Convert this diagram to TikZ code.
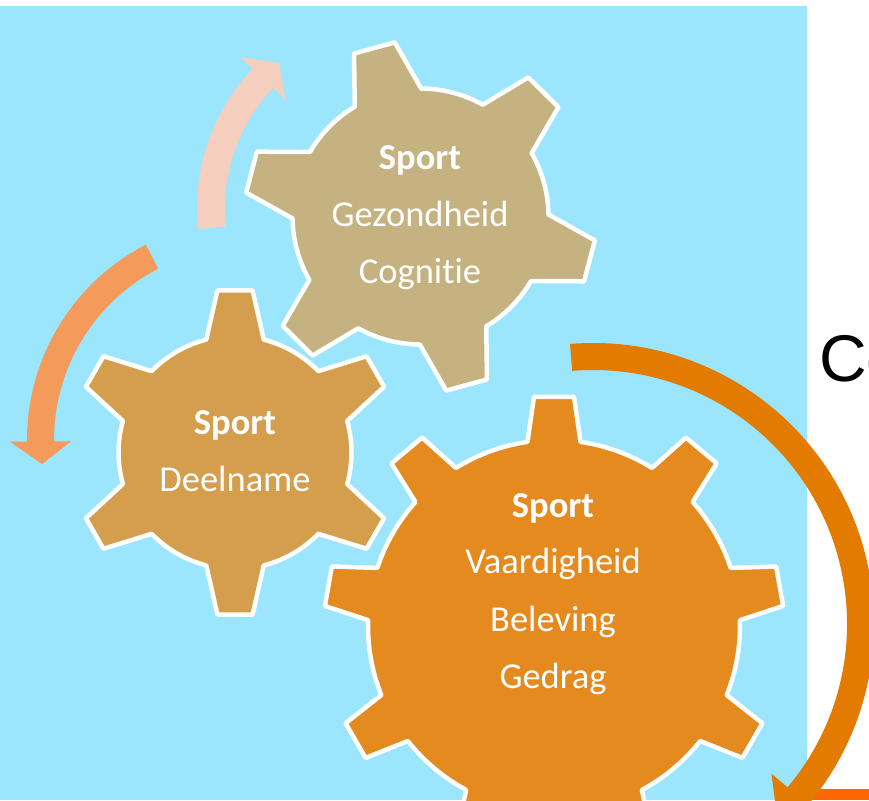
\documentclass[tikz,border=0pt]{standalone}
\usepackage{fontspec}
\setmainfont{Carlito}[Ligatures=NoCommon]
\newfontfamily\arialfont{Liberation Sans}
\definecolor{bgblue}{RGB}{155,229,253}
\definecolor{geartan}{RGB}{196,178,128}
\definecolor{gearmid}{RGB}{212,158,77}
\definecolor{gearbig}{RGB}{228,138,30}
\definecolor{arrpink}{RGB}{246,206,190}
\definecolor{arrorange}{RGB}{244,154,90}
\definecolor{arcorange}{RGB}{226,123,0}
\definecolor{barorange}{RGB}{255,102,0}
\tikzset{
  gearline/.style={draw=white,line width=4.5pt,line join=round},
  geartext/.style={text=white,font=\fontsize{36.5}{43}\selectfont,anchor=base,inner sep=0pt},
}
% #1 fill, #2 cx, #3 cy, #4 teeth, #5 first tooth angle, #6 root r, #7 tip r, #8 base half angle, #9 tip half angle
\newcommand\drawgear[9]{%
  \pgfmathsetmacro\gstp{360/#4}%
  \filldraw[gearline, fill=#1, shift={(#2,#3)}] ({#5-#8}:#6pt)
    \foreach \gk in {1,...,#4} {
      -- ({#5+(\gk-1)*\gstp-#9}:#7pt) -- ({#5+(\gk-1)*\gstp+#9}:#7pt)
      -- ({#5+(\gk-1)*\gstp+#8}:#6pt)
      arc[start angle={#5+(\gk-1)*\gstp+#8}, end angle={#5+\gk*\gstp-#8}, radius=#6pt]
    } -- cycle;%
}
\begin{document}
\begin{tikzpicture}[x=1pt,y=1pt]
\useasboundingbox (0,0) rectangle (869,800);
\clip (0,0) rectangle (869,800);
\fill[white] (0,0) rectangle (869,800);
\fill[bgblue] (0,0) rectangle (807,794);
\fill[barorange] (811,0) rectangle (869,11);

% curved arrows
\fill[arrpink, shift={(399,592)}] (186:202pt) arc[start angle=186, end angle=136.4, radius=202pt]
  -- (136.4:219pt) -- (129.6:188pt) -- (136.4:157pt) -- (136.4:174pt)
  arc[start angle=136.4, end angle=186, radius=174pt] -- cycle;
\fill[arrorange, shift={(247,360)}] (117.4:220pt) arc[start angle=117.4, end angle=180.4, radius=220pt]
  -- (180.4:237pt) -- (186.7:206.5pt) -- (180.4:176pt) -- (180.4:193pt)
  arc[start angle=180.4, end angle=117.4, radius=193pt] -- cycle;
\fill[arcorange, shift={(593,176)}] (94.7:281pt) arc[start angle=94.7, end angle=-40, radius=281pt]
  -- (-40:302pt) -- (-46.5:267.5pt) -- (-40:233pt) -- (-40:254pt)
  arc[start angle=-40, end angle=94.7, radius=254pt] -- cycle;

% gears
\drawgear{gearbig}{554}{174}{9}{90}{186}{230}{8.2}{5}
\drawgear{geartan}{420.5}{583.5}{6}{105.3}{128}{176}{15.6}{6.9}
\drawgear{gearmid}{235}{347.5}{6}{90}{116.5}{163}{14.3}{6.2}

% texts
\node[geartext] (t1a) at (420,630) {\bfseries Sport};
\node[geartext] (t1b) at (420,573) {Gezondheid};
\node[geartext] (t1c) at (420,516) {Cognitie};
\node[geartext] (t2a) at (235,365) {\bfseries Sport};
\node[geartext] (t2b) at (235,308) {Deelname};
\node[geartext] (t3a) at (553,282) {\bfseries Sport};
\node[geartext] (t3b) at (553,226) {Vaardigheid};
\node[geartext] (t3c) at (553,168) {Beleving};
\node[geartext] (t3d) at (553,112) {Gedrag};
\node[anchor=base west, inner sep=0pt, font=\arialfont\fontsize{66}{66}\selectfont] (co) at (819,418) {Co};
\end{tikzpicture}
\end{document}
